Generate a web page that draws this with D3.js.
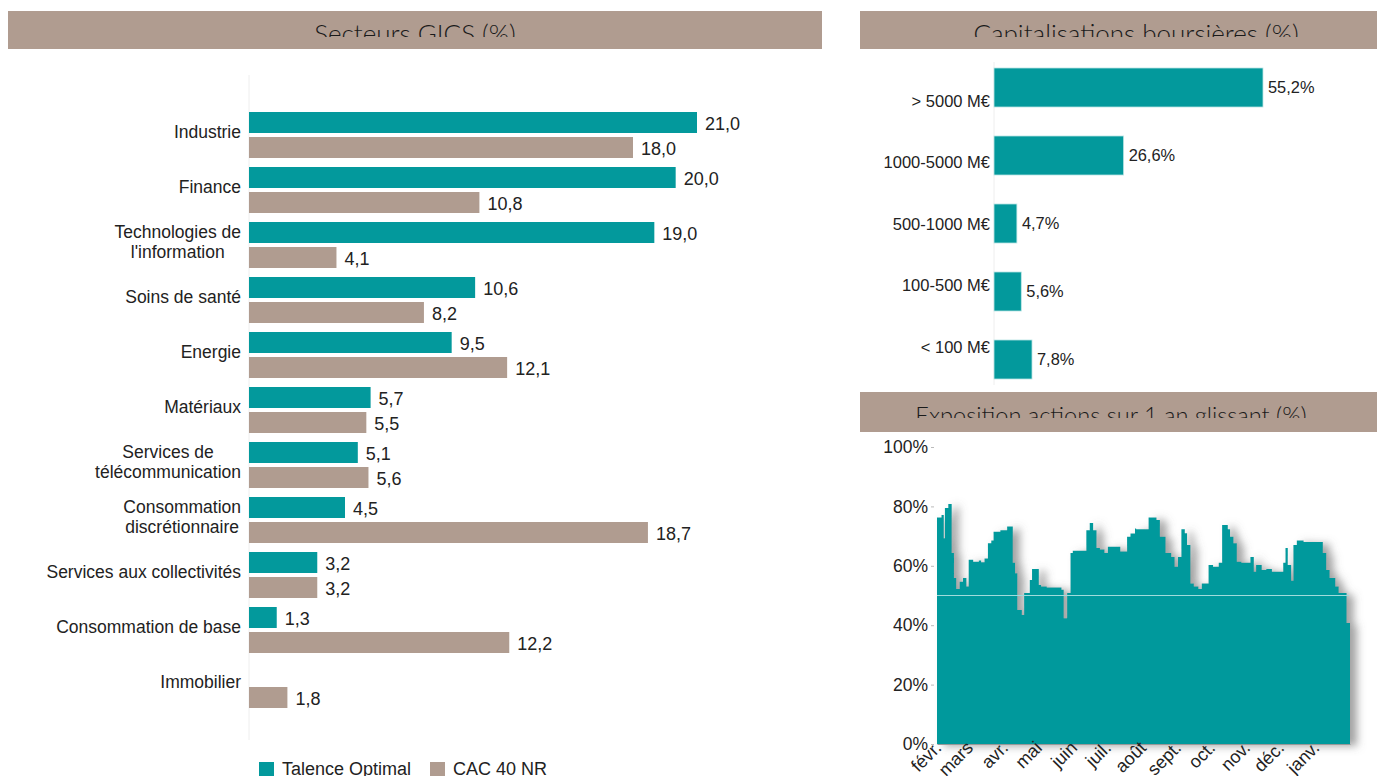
<!DOCTYPE html>
<html>
<head>
<meta charset="utf-8">
<script src="https://cdn.jsdelivr.net/npm/d3@7"></script>
<style>
  body { margin: 0; background: #fff; }
  svg { display: block; font-family: "Liberation Sans", Arial, sans-serif; }
  .title { font-family: Lato, "Open Sans", sans-serif; font-weight: 300; fill: #1a1a1a; }
  .lbl { font-size: 17.5px; fill: #222; }
  .val { font-size: 18px; fill: #222; }
</style>
</head>
<body>
<div id="chart"></div>
<script>
// GICS sectors
const sectors = ["Industrie", "Finance", "Technologies de\nl'information", "Soins de santé", "Energie",
  "Matériaux", "Services de\ntélécommunication", "Consommation\ndiscrétionnaire",
  "Services aux collectivités", "Consommation de base", "Immobilier"];
const fundWeights = [21.0, 20.0, 19.0, 10.6, 9.5, 5.7, 5.1, 4.5, 3.2, 1.3, null];
const indexWeights = [18.0, 10.8, 4.1, 8.2, 12.1, 5.5, 5.6, 18.7, 3.2, 12.2, 1.8];
const seriesNames = ["Talence Optimal", "CAC 40 NR"];

// market caps
const capBuckets = ["> 5000 M€", "1000-5000 M€", "500-1000 M€", "100-500 M€", "< 100 M€"];
const capWeights = [55.2, 26.6, 4.7, 5.6, 7.8];

// equity exposure, rolling year (step values)
const exposureDates = ["2018-02-01","2018-02-05","2018-02-07","2018-02-08","2018-02-11","2018-02-14","2018-02-16",
  "2018-02-18","2018-02-21","2018-02-24","2018-02-27","2018-03-01","2018-03-05","2018-03-10","2018-03-12",
  "2018-03-15","2018-03-18","2018-03-21","2018-03-23","2018-03-29","2018-04-04","2018-04-09","2018-04-11",
  "2018-04-13","2018-04-17","2018-04-19","2018-04-24","2018-04-26","2018-05-02","2018-05-04","2018-05-09",
  "2018-05-22","2018-05-24","2018-05-27","2018-05-30","2018-06-01","2018-06-13","2018-06-16","2018-06-19",
  "2018-06-22","2018-06-25","2018-06-29","2018-07-02","2018-07-13","2018-07-19","2018-07-22","2018-07-26",
  "2018-07-27","2018-08-07","2018-08-14","2018-08-17","2018-08-22","2018-08-27","2018-08-30","2018-09-02",
  "2018-09-05","2018-09-08","2018-09-10","2018-09-13","2018-09-16","2018-09-20","2018-09-23","2018-09-29",
  "2018-10-03","2018-10-08","2018-10-11","2018-10-16","2018-10-18","2018-10-21","2018-10-24","2018-10-28",
  "2018-11-05","2018-11-08","2018-11-10","2018-11-15","2018-11-19","2018-11-24","2018-12-04","2018-12-06",
  "2018-12-08","2018-12-11","2018-12-13","2018-12-16","2018-12-22","2019-01-08","2019-01-11","2019-01-14",
  "2019-01-19","2019-01-22","2019-01-29","2019-02-01"];
const exposureValues = [76.3,77.1,69.3,79.5,80.8,64.3,55.9,
  52.2,54.6,55.9,53.0,62.0,61.4,61.8,61.2,
  62.5,67.6,68.5,71.5,72.0,73.2,61.0,57.5,
  45.1,43.4,50.8,55.2,58.9,53.5,53.0,52.7,
  51.9,42.3,50.8,64.3,65.1,72.0,74.4,72.0,
  66.0,65.5,64.3,66.4,64.8,69.8,70.9,72.6,
  72.3,76.3,75.4,69.8,64.3,63.0,59.7,63.0,
  72.3,71.0,67.0,54.0,53.0,52.2,54.0,60.3,
  59.7,61.0,73.7,72.3,69.8,67.6,61.4,61.0,
  63.0,58.0,60.3,58.6,58.9,58.0,61.0,66.0,
  60.3,55.0,67.0,68.5,68.0,64.3,58.6,55.9,
  53.0,50.8,40.7,40.7];
const exposureTicks = [0, 20, 40, 60, 80, 100];
const monthLabels = ["févr.", "mars", "avr.", "mai", "juin", "juil.", "août", "sept.", "oct.", "nov.", "déc.", "janv."];

const teal = "#03999c", taupe = "#b09c90";

const svg = d3.select("#chart").append("svg").attr("width", 1377).attr("height", 776);
const defs = svg.append("defs");

// section headers (title text is cut by the band, as in the source)
const headers = [
  { text: "Secteurs GICS (%)", x: 8, y: 11, w: 814, h: 38, cx: 415, size: 26 },
  { text: "Capitalisations boursières (%)", x: 860, y: 11, w: 517, h: 38, cx: 1136, size: 26 },
  { text: "Exposition actions sur 1 an glissant (%)", x: 860, y: 392, w: 517, h: 40, cx: 1111, size: 23.6 }
];

function drawHeader(h, i) {
  svg.append("rect").attr("x", h.x).attr("y", h.y).attr("width", h.w).attr("height", h.h).attr("fill", taupe);
  defs.append("clipPath").attr("id", "hclip" + i)
    .append("rect").attr("x", h.x).attr("y", h.y).attr("width", h.w).attr("height", 26);
  svg.append("text").attr("class", "title")
    .style("font-size", h.size + "px")
    .attr("clip-path", `url(#hclip${i})`)
    .attr("x", h.cx).attr("y", h.y + 32)
    .attr("text-anchor", "middle")
    .text(h.text);
}

// ---- left: sectors
const sx = d3.scaleLinear().domain([0, 21]).range([249, 697]);
const sy = d3.scaleBand().domain(sectors).range([104, 709]);
const sub = d3.scaleBand().domain(seriesNames).range([8, 54]).paddingInner(0.16);

svg.append("line").attr("x1", sx(0)).attr("x2", sx(0)).attr("y1", 75).attr("y2", 740)
  .attr("stroke", "#eeeeee");

const rows = sectors.map((s, i) => ({ sector: s, vals: [fundWeights[i], indexWeights[i]] }));
const grp = svg.append("g").selectAll("g").data(rows).join("g")
  .attr("transform", d => `translate(0,${sy(d.sector)})`);

seriesNames.forEach((name, k) => {
  const g = grp.filter(d => d.vals[k] != null);
  g.append("rect")
    .attr("x", sx(0)).attr("y", sub(name))
    .attr("width", d => sx(d.vals[k]) - sx(0)).attr("height", sub.bandwidth())
    .attr("fill", k === 0 ? teal : taupe);
  g.append("text").attr("class", "val")
    .attr("x", d => sx(d.vals[k]) + 8).attr("y", sub(name) + sub.bandwidth() / 2 + 1)
    .attr("dy", "0.35em")
    .text(d => d3.format(".1f")(d.vals[k]).replace(".", ","));
});

// category labels (multi-line ones centred on their widest line)
grp.each(function(d) {
  const lines = d.sector.split("\n");
  const t = d3.select(this).append("text").attr("class", "lbl").attr("text-anchor", "middle");
  lines.forEach((l, j) => t.append("tspan").text(l)
    .attr("y", sy.bandwidth() / 2 + 0.5 + (j - (lines.length - 1) / 2) * 20.5).attr("dy", "0.35em"));
  const w = d3.max(t.selectAll("tspan").nodes(), n => n.getComputedTextLength());
  t.selectAll("tspan").attr("x", 241 - w / 2);
});

// legend
const leg = svg.append("g").attr("transform", "translate(259,762)");
seriesNames.forEach((name, k) => {
  const lx = k === 0 ? 0 : 171;
  leg.append("rect").attr("x", lx).attr("y", 0).attr("width", 15).attr("height", 15)
    .attr("fill", k === 0 ? teal : taupe);
  leg.append("text").attr("class", "lbl").style("font-size", "18px")
    .attr("x", lx + 23).attr("y", 7).attr("dy", "0.35em")
    .text(name);
});

// ---- top right: market caps
const cx = d3.scaleLinear().domain([0, 55.2]).range([994, 1263]);
const cy = d3.scaleBand().domain(capBuckets).range([53.5, 393.5]).paddingInner(0.426).paddingOuter(0.213);
const cyLabel = d3.scalePoint().domain(capBuckets).range([101, 347]);

svg.append("line").attr("x1", cx(0)).attr("x2", cx(0)).attr("y1", 62).attr("y2", 385)
  .attr("stroke", "#eeeeee");

svg.append("g").selectAll("rect").data(capBuckets).join("rect")
  .attr("x", cx(0)).attr("y", d => cy(d))
  .attr("width", (d, i) => cx(capWeights[i]) - cx(0)).attr("height", cy.bandwidth())
  .attr("fill", teal).attr("stroke", "#bfe6e6").attr("stroke-width", 0.8);

svg.append("g").selectAll("text").data(capBuckets).join("text")
  .attr("class", "val").style("font-size", "16.4px")
  .attr("x", (d, i) => cx(capWeights[i]) + 5).attr("y", d => cy(d) + cy.bandwidth() / 2)
  .attr("dy", "0.35em")
  .text((d, i) => d3.format(".1f")(capWeights[i]).replace(".", ",") + "%");

svg.append("g").selectAll("text").data(capBuckets).join("text")
  .attr("class", "lbl").style("font-size", "16.5px")
  .attr("x", 990).attr("y", d => cyLabel(d)).attr("dy", "0.35em")
  .attr("text-anchor", "end")
  .text(d => d);

// ---- bottom right: equity exposure
const parse = d3.timeParse("%Y-%m-%d");
const expo = exposureDates.map((d, i) => ({ date: parse(d), v: exposureValues[i] }));
const ex = d3.scaleTime().domain([parse("2018-02-01"), parse("2019-02-01")]).range([937, 1350]);
const ey = d3.scaleLinear().domain([0, 100]).range([744, 447]);

defs.append("filter").attr("id", "shadow").attr("x", "-5%").attr("y", "-10%").attr("width", "115%").attr("height", "120%")
  .append("feDropShadow").attr("dx", 7).attr("dy", 2).attr("stdDeviation", 4)
  .attr("flood-color", "#666").attr("flood-opacity", 0.6);

svg.append("path").datum(expo)
  .attr("fill", teal).attr("filter", "url(#shadow)")
  .attr("d", d3.area().curve(d3.curveStepAfter).x(d => ex(d.date)).y0(ey(0)).y1(d => ey(d.v)));

svg.append("line").attr("x1", ex.range()[0]).attr("x2", ex.range()[1] - 1)
  .attr("y1", ey(50)).attr("y2", ey(50)).attr("stroke", "#9fdcdc").attr("stroke-width", 1);

const yAx = svg.append("g").attr("transform", `translate(${ex.range()[0] - 3},0)`)
  .call(d3.axisLeft(ey).tickValues(exposureTicks).tickSize(3).tickPadding(3).tickFormat(d => d + "%"));
yAx.select(".domain").remove();
yAx.selectAll(".tick line").attr("stroke", "#bbb");
yAx.selectAll(".tick text").attr("class", "lbl").attr("font-family", null).attr("font-size", null);

const xAx = svg.append("g").attr("transform", `translate(0,${ey(0)})`)
  .call(d3.axisBottom(ex).ticks(d3.timeMonth.every(1)).tickSize(0).tickPadding(0)
    .tickFormat(d => monthLabels[(d.getMonth() + 11) % 12]));
xAx.select(".domain").attr("stroke", "#999");
xAx.selectAll(".tick").filter(d => d >= ex.domain()[1]).remove();
xAx.selectAll(".tick text").attr("class", "lbl").attr("font-family", null).attr("font-size", null)
  .style("font-size", "18px")
  .attr("text-anchor", "end").attr("dy", null).attr("y", 0)
  .attr("transform", "translate(5,5) rotate(-45)");

headers.forEach(drawHeader);
</script>
</body>
</html>
